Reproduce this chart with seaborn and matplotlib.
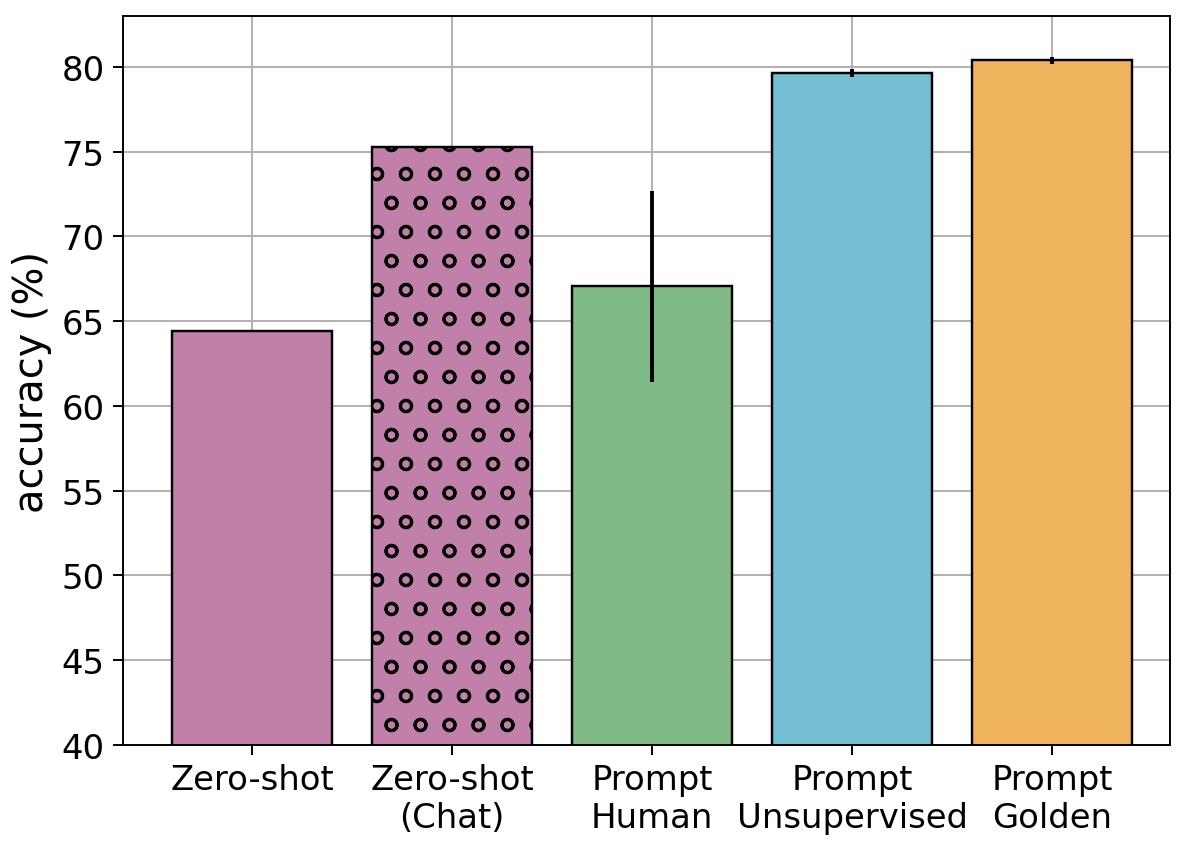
import numpy as np
import pandas as pd
import matplotlib
matplotlib.use("Agg")
import matplotlib.pyplot as plt
import seaborn as sns

# values
methods = ["Zero-shot", "Zero-shot\n(Chat)", "Prompt\nHuman", "Prompt\nUnsupervised", "Prompt\nGolden"]
accuracy = [64.4, 75.25, 67.05, 79.65, 80.4]
errors = [0.0, 0.0, 5.65, 0.25, 0.2]
colors = ["#C080A9", "#C080A9", "#7FBA87", "#74BFD3", "#F0B35D"]
hatches = ["", "o", "", "", ""]

sns.set_style("ticks")
plt.rcParams["font.family"] = ["DejaVu Sans"]
plt.rcParams["hatch.linewidth"] = 1.2

df = pd.DataFrame({"method": methods, "acc": accuracy})

DPI = 174
fig, ax = plt.subplots(figsize=(1200 / DPI, 852 / DPI), dpi=DPI)

sns.barplot(data=df, x="method", y="acc", hue="method", palette=colors,
            saturation=1, edgecolor="black", linewidth=1.0, legend=False,
            ax=ax, zorder=2)
for bar, h in zip(ax.patches, hatches):
    bar.set_hatch(h)

ax.errorbar(np.arange(len(methods)), accuracy, yerr=errors, fmt="none",
            ecolor="black", elinewidth=1.6, capsize=0, zorder=3)

ax.grid(True, axis="both", color="#b0b0b0", linewidth=0.8)
ax.set_axisbelow(True)

ax.set_ylim(40, 83)
ax.set_xlim(-0.647, 4.59)
ax.set_xlabel("")
ax.set_ylabel("accuracy (%)", fontsize=16.5, color="black")
ax.tick_params(axis="both", labelsize=14, direction="out", length=4, width=0.8,
               colors="black")
for s in ax.spines.values():
    s.set_color("black")
    s.set_linewidth(0.8)

fig.subplots_adjust(left=0.1025, right=0.975, top=0.980, bottom=0.1244)
plt.savefig("out.png", dpi=DPI)
